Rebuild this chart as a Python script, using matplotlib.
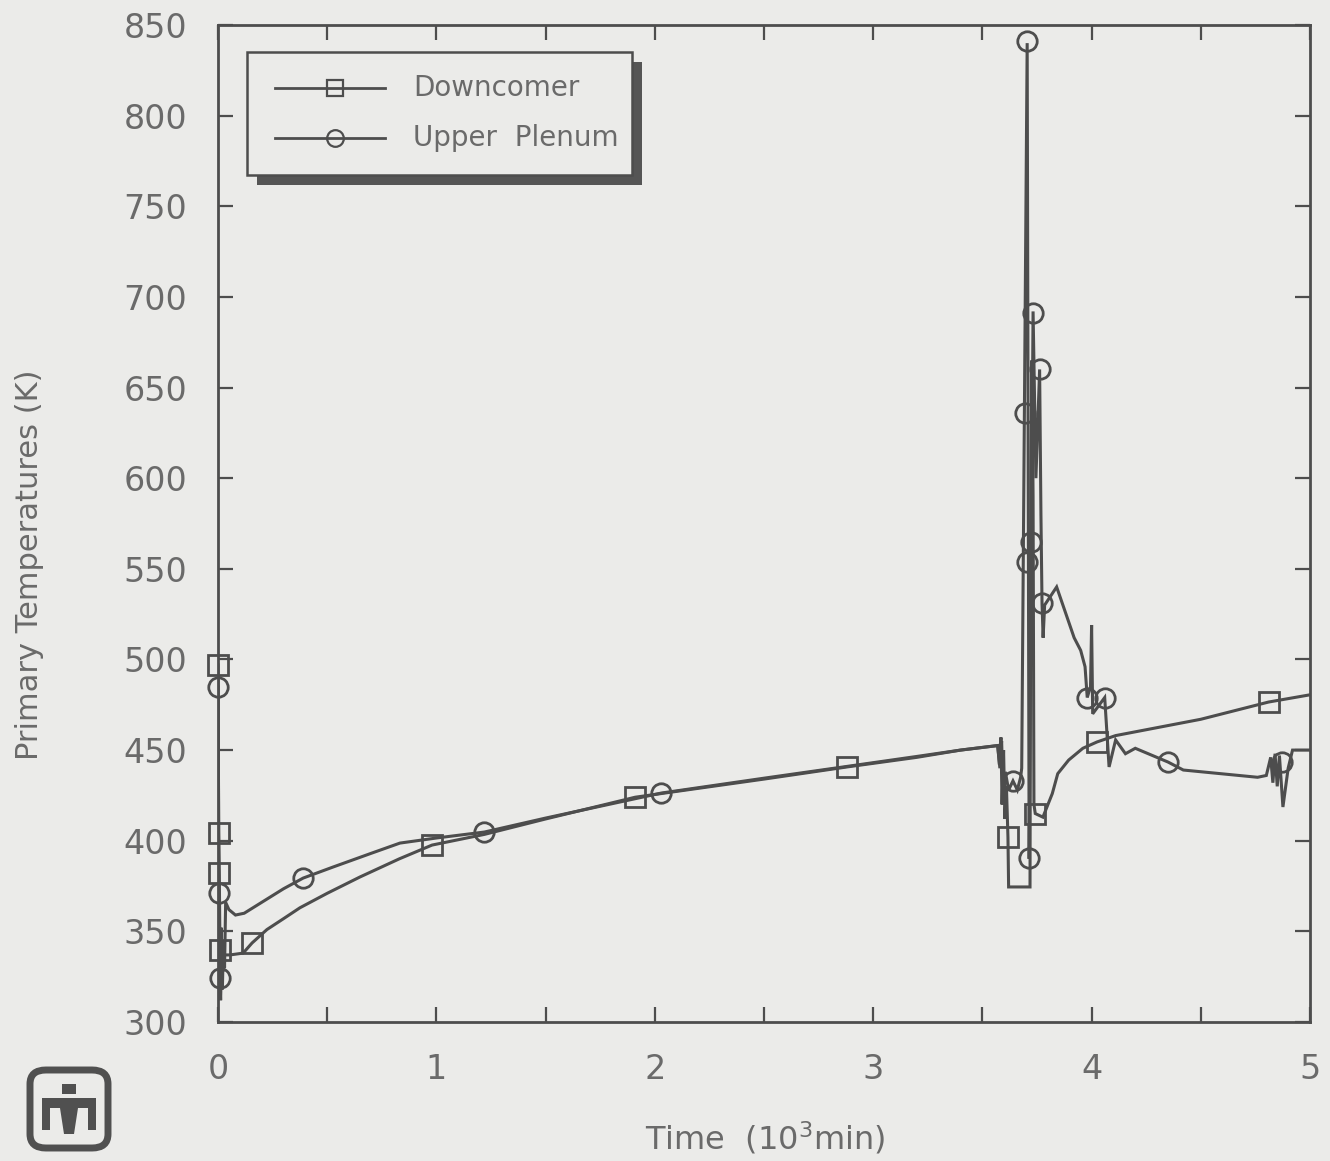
import matplotlib
matplotlib.use("Agg")
import matplotlib.pyplot as plt
from matplotlib.patches import Rectangle, FancyBboxPatch, Polygon
from matplotlib.lines import Line2D

# ---------------- data ----------------
series_labels = ["Downcomer", "Upper  Plenum"]

dc_t = [0.000, 0.003, 0.006, 0.009, 0.012, 0.015, 0.018, 0.022, 0.026, 0.030,
        0.055, 0.115, 0.156, 0.224, 0.300, 0.375, 0.500, 0.650, 0.830, 0.980,
        1.220, 1.500, 1.910, 2.500, 2.880, 3.200, 3.400, 3.570, 3.578, 3.585,
        3.590, 3.597, 3.603, 3.610, 3.617, 3.620, 3.718, 3.722, 3.727, 3.732,
        3.736, 3.742, 3.777, 3.820, 3.845, 3.895, 3.960, 4.025, 4.110, 4.500,
        4.810, 5.000]
dc_T = [497, 405, 381, 340, 318, 352, 322, 345, 328, 337,
        337, 338, 343.6, 351, 357, 363, 371, 380, 390, 397.6,
        403.5, 412, 424, 434, 440.7, 446, 450, 452.5, 442, 457,
        420, 450, 412, 430, 402, 374.5, 374.5, 600, 665, 590,
        420, 415, 413, 426, 437, 444.5, 451, 454.5, 458, 467,
        476.5, 480.5]

up_t = [0.000, 0.002, 0.004, 0.008, 0.012, 0.016, 0.020, 0.025, 0.030, 0.035,
        0.050, 0.080, 0.120, 0.200, 0.300, 0.390, 0.527, 0.700, 0.833, 1.000,
        1.220, 1.500, 2.030, 2.500, 2.880, 3.200, 3.400, 3.570, 3.580, 3.588,
        3.595, 3.605, 3.620, 3.640, 3.660, 3.675, 3.680, 3.705, 3.714, 3.720,
        3.732, 3.745, 3.762, 3.768, 3.773, 3.778, 3.785, 3.840, 3.920, 3.950,
        3.970, 3.980, 3.995, 4.000, 4.005, 4.060, 4.080, 4.110, 4.155, 4.200,
        4.350, 4.420, 4.760, 4.800, 4.820, 4.830, 4.840, 4.850, 4.860, 4.876,
        4.900, 4.920, 5.000]
up_T = [485, 440, 371, 326, 312, 335, 318, 345, 330, 366,
        362, 359, 360, 366, 373.5, 379.4, 385.5, 393, 398.7, 401.5,
        404.8, 412.5, 426.3, 434.5, 441, 446.5, 450, 452.5, 440, 455,
        425, 438, 428, 433, 428, 435, 440, 840, 390, 500,
        692, 600, 660, 580, 531, 512, 530, 540, 512, 505,
        496, 479, 485, 519, 470, 479, 440.7, 455.6, 448, 451,
        443.4, 439, 435, 436, 446, 432, 448, 430, 447, 418.6,
        440, 450, 450]

dc_mark_t = [0.000, 0.003, 0.006, 0.010, 0.156, 0.980, 1.910, 2.880, 3.617, 3.742, 4.025, 4.810]
dc_mark_T = [497, 404, 382, 339.7, 343.6, 397.6, 424, 440.7, 402, 415, 454.5, 476.5]

up_mark_t = [0.000, 0.004, 0.010, 0.390, 1.220, 2.030, 3.640, 3.705, 3.714, 3.732,
             3.762, 3.693, 3.722, 3.702, 3.773, 3.980, 4.060, 4.350, 4.870]
up_mark_T = [485, 371, 324, 379.4, 404.8, 426.3, 433, 841, 390.5, 691,
             660, 636, 565, 554, 531, 479, 479, 443.4, 443.4]

x_ticks = [0, 1, 2, 3, 4, 5]
x_minor = [0.5, 1.5, 2.5, 3.5, 4.5]
y_ticks = [300, 350, 400, 450, 500, 550, 600, 650, 700, 750, 800, 850]

# ---------------- style ----------------
BG = "#ebebe9"
INK = "#4d4d4d"
TXT = "#6a6a6a"

W, H = 1330, 1161
fig = plt.figure(figsize=(W / 100, H / 100), dpi=100, facecolor=BG)
ax = fig.add_axes([218 / W, 1 - 1022 / H, 1092 / W, 997 / H], facecolor=BG)

line_kw = dict(color=INK, lw=2.2, solid_joinstyle="miter")
mark_kw = dict(ls="none", mfc="none", mec=INK, mew=2.0, ms=14, clip_on=False)

ax.plot(dc_t, dc_T, **line_kw, zorder=3)
ax.plot(up_t, up_T, **line_kw, zorder=3)
ax.plot(dc_mark_t, dc_mark_T, marker="s", **mark_kw, zorder=4)
ax.plot(up_mark_t, up_mark_T, marker="o", **mark_kw, zorder=4)

ax.set_xlim(0, 5)
ax.set_ylim(300, 850)
ax.set_xticks(x_ticks)
ax.set_xticks(x_minor, minor=True)
ax.set_yticks(y_ticks)
ax.tick_params(which="both", direction="in", top=True, right=True,
               length=11, width=1.6, color=INK)
ax.tick_params(axis="x", which="major", pad=22, labelsize=24, labelcolor=TXT)
ax.tick_params(axis="y", which="major", pad=22, labelsize=24, labelcolor=TXT)
for s in ax.spines.values():
    s.set_color(INK)
    s.set_linewidth(2.0)

fig.text(30 / W, 1 - 565 / H, "Primary Temperatures (K)", rotation=90,
         ha="center", va="center", fontsize=22, color=TXT)
fig.text(765 / W, 1 - 1138 / H, "Time  (10$^3$min)", ha="center", va="center",
         fontsize=23, color=TXT)

# ---------------- legend (drawn by hand, with offset shadow) ----------------
def axx(px):
    return (px - 218) / 1092

def axy(py):
    return (1022 - py) / 997

ax.add_patch(Rectangle((axx(257), axy(185)), axx(642) - axx(257), axy(62) - axy(185),
                       transform=ax.transAxes, facecolor="#555555", edgecolor="none",
                       zorder=5, clip_on=False))
ax.add_patch(Rectangle((axx(247), axy(175)), axx(632) - axx(247), axy(52) - axy(175),
                       transform=ax.transAxes, facecolor=BG, edgecolor=INK, lw=1.8,
                       zorder=6, clip_on=False))
for i, (lab, mk) in enumerate(zip(series_labels, ["s", "o"])):
    yy = axy(88 + 50 * i)
    ax.add_line(Line2D([axx(275), axx(335), axx(385)], [yy, yy, yy],
                       transform=ax.transAxes, color=INK, lw=2.0, marker=mk,
                       markevery=[1], mfc="none", mec=INK, mew=1.6, ms=12,
                       zorder=7, clip_on=False))
    ax.text(axx(413), yy, lab, transform=ax.transAxes, ha="left", va="center",
            fontsize=20, color=TXT, zorder=7)

# ---------------- logo (bottom left) ----------------
lx0, ly0, lx1, ly1 = 30, 1070, 108, 1148
fig.patches.append(FancyBboxPatch((lx0 / W, 1 - ly1 / H), (lx1 - lx0) / W, (ly1 - ly0) / H,
                                  boxstyle="round,pad=0,rounding_size=0.012",
                                  transform=fig.transFigure, facecolor=BG,
                                  edgecolor="#505050", lw=5))
def fpoly(pts):
    return Polygon([(x / W, 1 - y / H) for x, y in pts], closed=True,
                   transform=fig.transFigure, facecolor="#505050", edgecolor="none")
fig.patches.append(fpoly([(62, 1084), (76, 1084), (76, 1094), (62, 1094)]))
fig.patches.append(fpoly([(42, 1098), (96, 1098), (96, 1108), (42, 1108)]))
fig.patches.append(fpoly([(42, 1108), (50, 1108), (50, 1130), (42, 1130)]))
fig.patches.append(fpoly([(88, 1108), (96, 1108), (96, 1130), (88, 1130)]))
fig.patches.append(fpoly([(60, 1108), (78, 1108), (74, 1134), (64, 1134)]))

fig.savefig("out.png", dpi=100, facecolor=BG)
